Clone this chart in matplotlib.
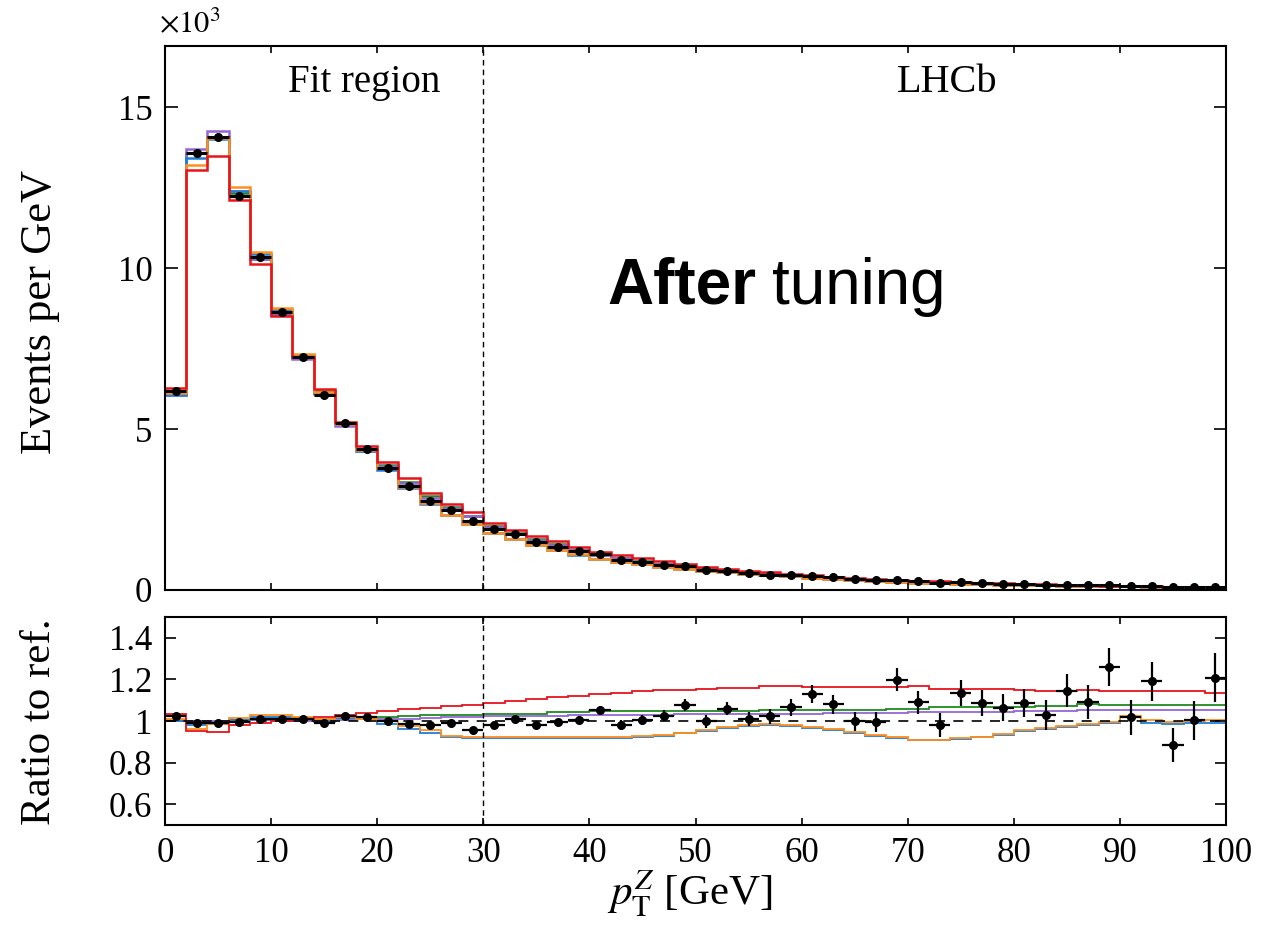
import numpy as np
import matplotlib
matplotlib.use("Agg")
import matplotlib.pyplot as plt

plt.rcParams['font.family'] = ['Liberation Serif', 'DejaVu Serif']
plt.rcParams['mathtext.fontset'] = 'stix'

# ---------------- data ----------------
bin_edges = np.arange(0, 102, 2)

# reference prediction, events per GeV (x10^3)
ref = np.array([6.06, 13.70, 14.22, 12.33, 10.23, 8.54, 7.18, 6.11, 5.07, 4.29,
                3.80, 3.29, 2.83, 2.51, 2.24, 1.93, 1.71, 1.52, 1.36, 1.20,
                1.05, 0.96, 0.86, 0.77, 0.69, 0.63, 0.57, 0.52, 0.47, 0.43,
                0.39, 0.36, 0.33, 0.30, 0.27, 0.25, 0.23, 0.21, 0.195, 0.18,
                0.165, 0.15, 0.14, 0.13, 0.12, 0.11, 0.10, 0.095, 0.088, 0.08])

data_ratio = np.array([1.022, 0.990, 0.990, 0.993, 1.012, 1.012, 1.010, 0.992, 1.022, 1.018,
                       1.000, 0.985, 0.980, 0.988, 0.955, 0.979, 1.010, 0.979, 0.993, 1.006,
                       1.051, 0.980, 1.006, 1.025, 1.077, 0.998, 1.060, 1.010, 1.022, 1.065,
                       1.129, 1.080, 0.998, 0.993, 1.198, 1.089, 0.979, 1.134, 1.085, 1.064,
                       1.088, 1.027, 1.145, 1.091, 1.260, 1.019, 1.190, 0.885, 1.003, 1.209])

data_ratio_err = np.array([0.006, 0.004, 0.004, 0.004, 0.005, 0.005, 0.006, 0.007, 0.008, 0.009,
                           0.010, 0.011, 0.012, 0.013, 0.014, 0.015, 0.016, 0.017, 0.018, 0.020,
                           0.022, 0.023, 0.025, 0.027, 0.030, 0.031, 0.033, 0.035, 0.037, 0.039,
                           0.043, 0.044, 0.046, 0.048, 0.056, 0.055, 0.058, 0.064, 0.062, 0.065,
                           0.067, 0.072, 0.080, 0.082, 0.092, 0.084, 0.096, 0.080, 0.092, 0.116])

ratio_blue = np.array([1.000, 0.979, 0.985, 1.005, 1.020, 1.020, 1.015, 1.000, 1.015, 1.010,
                       0.985, 0.963, 0.944, 0.925, 0.920, 0.918, 0.918, 0.918, 0.918, 0.918,
                       0.918, 0.918, 0.922, 0.930, 0.940, 0.950, 0.966, 0.975, 0.983, 0.977,
                       0.968, 0.958, 0.943, 0.927, 0.918, 0.907, 0.907, 0.915, 0.921, 0.934,
                       0.950, 0.963, 0.972, 0.983, 0.990, 1.018, 0.990, 0.985, 0.990, 0.990])

ratio_orange = np.array([1.010, 0.963, 0.987, 1.016, 1.027, 1.027, 1.020, 1.008, 1.018, 1.012,
                         1.000, 0.975, 0.955, 0.930, 0.922, 0.922, 0.922, 0.922, 0.922, 0.922,
                         0.922, 0.922, 0.927, 0.933, 0.944, 0.955, 0.971, 0.979, 0.987, 0.980,
                         0.971, 0.962, 0.947, 0.931, 0.922, 0.911, 0.911, 0.919, 0.925, 0.939,
                         0.955, 0.968, 0.976, 0.987, 0.995, 1.025, 1.005, 0.995, 1.002, 1.005])

ratio_green = np.array([1.005, 0.990, 0.990, 1.000, 1.005, 1.005, 1.005, 1.010, 1.015, 1.015,
                        1.020, 1.022, 1.027, 1.027, 1.027, 1.033, 1.035, 1.035, 1.041, 1.041,
                        1.046, 1.046, 1.046, 1.046, 1.046, 1.046, 1.050, 1.050, 1.054, 1.054,
                        1.054, 1.054, 1.054, 1.054, 1.059, 1.059, 1.065, 1.065, 1.068, 1.068,
                        1.065, 1.070, 1.070, 1.081, 1.075, 1.075, 1.076, 1.076, 1.078, 1.078])

ratio_red = np.array([1.033, 0.953, 0.949, 0.983, 0.990, 0.998, 1.010, 1.020, 1.030, 1.040,
                      1.050, 1.058, 1.062, 1.070, 1.078, 1.085, 1.094, 1.105, 1.115, 1.121,
                      1.131, 1.137, 1.142, 1.150, 1.150, 1.153, 1.158, 1.161, 1.166, 1.166,
                      1.164, 1.164, 1.163, 1.163, 1.163, 1.166, 1.156, 1.156, 1.153, 1.153,
                      1.150, 1.145, 1.145, 1.150, 1.145, 1.145, 1.142, 1.142, 1.142, 1.134])

ratio_purple = np.array([1.000, 1.000, 1.002, 1.005, 1.005, 1.000, 0.998, 0.995, 1.005, 1.008,
                         1.010, 1.012, 1.015, 1.018, 1.020, 1.022, 1.025, 1.025, 1.026, 1.027,
                         1.028, 1.028, 1.029, 1.030, 1.033, 1.033, 1.034, 1.035, 1.035, 1.036,
                         1.036, 1.037, 1.037, 1.040, 1.040, 1.041, 1.042, 1.043, 1.044, 1.045,
                         1.048, 1.049, 1.050, 1.051, 1.052, 1.052, 1.053, 1.053, 1.054, 1.054])

models = [
    ("green", ratio_green, "#1e8a1e"),
    ("purple", ratio_purple, "#9467d4"),
    ("blue", ratio_blue, "#1f7fd6"),
    ("orange", ratio_orange, "#ff8f1f"),
    ("red", ratio_red, "#e8141c"),
]

centers = 0.5 * (bin_edges[:-1] + bin_edges[1:])
data = ref * data_ratio
data_err = data * data_ratio_err

# ---------------- figure ----------------
W, H = 1272, 933
fig = plt.figure(figsize=(W / 100, H / 100), dpi=100)
L, R = 165 / W, 1226 / W
ax1 = fig.add_axes([L, 1 - 590 / H, R - L, (590 - 46) / H])
ax2 = fig.add_axes([L, 1 - 825 / H, R - L, (825 - 617) / H])

for name, r, c in models:
    ax1.stairs(ref * r, bin_edges, color=c, lw=1.8, baseline=None)
ax1.errorbar(centers, data, xerr=1.0, yerr=data_err, fmt='o', color='k',
             ms=5.5, elinewidth=2.2, capsize=0, zorder=5)
ax1.axvline(30, color='k', lw=1.0, ls=(0, (4, 3)))
ax1.set_xlim(0, 100)
ax1.set_ylim(0, 16.9)
ax1.set_yticks([0, 5, 10, 15])
ax1.set_xticks(np.arange(0, 101, 10))
ax1.set_xticklabels([])
ax1.tick_params(axis='both', direction='in', top=True, right=True, labelsize=25, width=1.2)
ax1.tick_params(axis='y', length=9, pad=9)
ax1.tick_params(axis='x', length=5)

fig.text(364 / W, 1 - 92 / H, "Fit region", ha='center', va='baseline', fontsize=28)
fig.text(947 / W, 1 - 92 / H, "LHCb", ha='center', va='baseline', fontsize=29)
fig.text(190 / W, 1 - 24 / H, r"$\times10^{3}$", ha='center', va='center', fontsize=22)
fig.text(607 / W, 1 - 304 / H, "After", ha='left', va='baseline', fontsize=46,
         family=['Liberation Sans', 'DejaVu Sans'], fontweight='bold')
fig.text(772 / W, 1 - 304 / H, "tuning", ha='left', va='baseline', fontsize=46,
         family=['Liberation Sans', 'DejaVu Sans'])

for name, r, c in models:
    ax2.stairs(r, bin_edges, color=c, lw=1.3, baseline=None)
ax2.axhline(1.0, color='k', lw=1.2, ls=(0, (6, 5)), zorder=3)
ax2.errorbar(centers, data_ratio, xerr=1.0, yerr=data_ratio_err, fmt='o', color='k',
             ms=5.5, elinewidth=1.6, capsize=0, zorder=5)
ax2.axvline(30, color='k', lw=1.0, ls=(0, (4, 3)))
ax2.set_xlim(0, 100)
ax2.set_ylim(0.5, 1.5)
ax2.set_yticks([0.6, 0.8, 1.0, 1.2, 1.4])
ax2.set_yticklabels(["0.6", "0.8", "1", "1.2", "1.4"])
ax2.set_xticks(np.arange(0, 101, 10))
ax2.tick_params(axis='both', direction='in', top=True, right=True, labelsize=25, width=1.2)
ax2.tick_params(axis='y', length=8, pad=9)
ax2.tick_params(axis='x', length=5, pad=9)

for ax in (ax1, ax2):
    for s in ax.spines.values():
        s.set_linewidth(1.5)

fig.text(40 / W, 1 - 312 / H, "Events per GeV", rotation=90, ha='center', va='center', fontsize=32)
fig.text(40 / W, 1 - 722 / H, "Ratio to ref.", rotation=90, ha='center', va='center', fontsize=31)
fig.text(690 / W, 1 - 906 / H, r"$p_{\mathrm{T}}^{Z}$ [GeV]", ha='center', va='baseline', fontsize=31)

fig.savefig("out.png", dpi=100)
